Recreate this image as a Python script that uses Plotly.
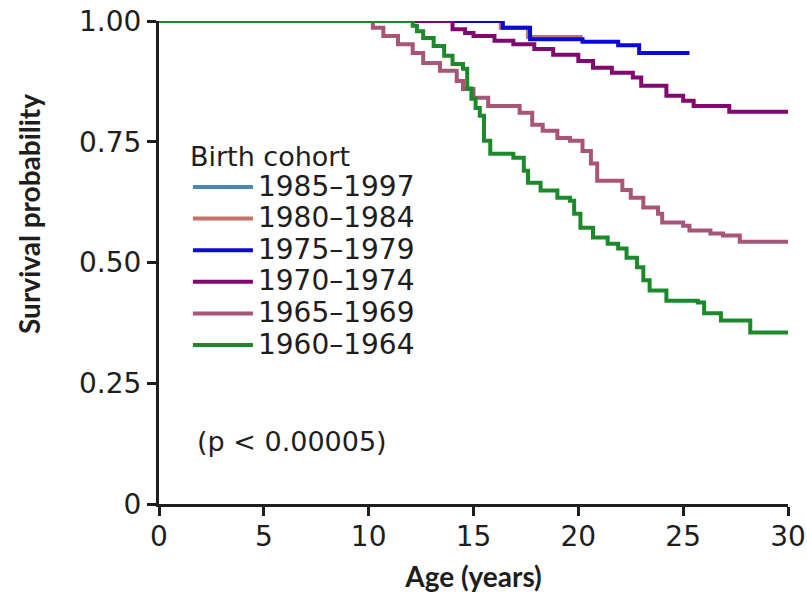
import plotly.graph_objects as go

# ---- data ----
cohorts = ["1985–1997", "1980–1984", "1975–1979", "1970–1974", "1965–1969", "1960–1964"]
colors = ["#4a86b5", "#c47264", "#0a0ad2", "#80086e", "#a85578", "#1c8a2a"]

ages_1985_1997 = [0, 16.3]
surv_1985_1997 = [1.0, 1.0]

ages_1980_1984 = [0, 16.3, 17.6, 20.2]
surv_1980_1984 = [1.0, 0.986, 0.967, 0.967]

ages_1975_1979 = [0, 16.4, 17.7, 20.2, 21.9, 22.9, 25.3]
surv_1975_1979 = [1.0, 0.986, 0.962, 0.957, 0.950, 0.934, 0.934]

ages_1970_1974 = [0, 14.0, 14.6, 15.0, 16.0, 16.9, 17.9, 18.8, 20.0, 20.7, 21.6, 22.6, 23.0, 24.2, 25.0, 25.5, 27.2, 30]
surv_1970_1974 = [1.0, 0.983, 0.975, 0.969, 0.959, 0.952, 0.942, 0.93, 0.917, 0.903, 0.893, 0.883, 0.866, 0.845, 0.835, 0.824, 0.812, 0.812]

ages_1965_1969 = [0, 10.2, 10.7, 11.4, 12.1, 12.6, 13.4, 14.2, 14.5, 15.0, 15.7, 17.2, 17.8, 18.3, 19.0, 19.6, 20.2, 20.6, 20.9, 22.1, 22.5, 23.1, 23.8, 24.0, 25.0, 25.3, 26.3, 26.9, 27.7, 30]
surv_1965_1969 = [1.0, 0.986, 0.969, 0.952, 0.934, 0.913, 0.897, 0.876, 0.859, 0.841, 0.824, 0.81, 0.785, 0.773, 0.758, 0.752, 0.731, 0.705, 0.669, 0.65, 0.634, 0.614, 0.601, 0.583, 0.576, 0.566, 0.560, 0.556, 0.543, 0.543]

ages_1960_1964 = [0, 12.1, 12.3, 12.6, 13.1, 13.6, 14.0, 14.5, 14.7, 14.9, 15.1, 15.3, 15.5, 15.8, 16.9, 17.4, 17.6, 18.2, 19.0, 19.6, 19.8, 20.1, 20.7, 21.4, 21.9, 22.3, 22.8, 23.1, 23.4, 24.2, 25.7, 26.0, 26.8, 28.2, 30]
surv_1960_1964 = [1.0, 0.99, 0.979, 0.965, 0.948, 0.928, 0.911, 0.901, 0.86, 0.839, 0.82, 0.804, 0.752, 0.725, 0.717, 0.69, 0.665, 0.649, 0.634, 0.628, 0.601, 0.572, 0.552, 0.539, 0.529, 0.51, 0.49, 0.463, 0.442, 0.421, 0.417, 0.395, 0.38, 0.355, 0.355]

x_ticks = [0, 5, 10, 15, 20, 25, 30]
y_ticks = [0, 0.25, 0.5, 0.75, 1.0]
y_tick_labels = ["0", "0.25", "0.50", "0.75", "1.00"]

series_ages = [ages_1985_1997, ages_1980_1984, ages_1975_1979, ages_1970_1974, ages_1965_1969, ages_1960_1964]
series_surv = [surv_1985_1997, surv_1980_1984, surv_1975_1979, surv_1970_1974, surv_1965_1969, surv_1960_1964]

TEXT_FONT = "DejaVu Sans"
TITLE_FONT = "Lato"
INK = "#1e1e1e"

fig = go.Figure()
for name, col, xs, ys in zip(cohorts, colors, series_ages, series_surv):
    fig.add_trace(go.Scatter(
        x=xs, y=ys, mode="lines", name=f"<span style='font-size:28px'>{name}</span>",
        line=dict(color=col, width=4, shape="hv"), cliponaxis=False,
    ))

fig.add_annotation(
    x=0.058, y=0.13, xref="paper", yref="paper", xanchor="left", yanchor="middle",
    text="(p < 0.00005)", showarrow=False,
    font=dict(family=TEXT_FONT, size=27, color=INK),
)

# y-axis title sits above the axis centre in the reference
fig.add_annotation(
    x=-0.207, y=0.6, xref="paper", yref="paper", xanchor="center", yanchor="middle",
    text="<b>Survival probability</b>", textangle=-90, showarrow=False,
    font=dict(family=TITLE_FONT, size=28, color=INK),
)

fig.update_layout(
    template="none",
    width=807, height=597,
    margin=dict(l=159, r=19, t=21, b=93),
    paper_bgcolor="white", plot_bgcolor="white",
    showlegend=True,
    legend=dict(
        x=0.046, y=0.772, xanchor="left", yanchor="top",
        bgcolor="rgba(0,0,0,0)", borderwidth=0,
        font=dict(family=TEXT_FONT, size=22, color=INK),
        title=dict(text="Birth cohort", font=dict(family=TEXT_FONT, size=27, color=INK)),
        itemwidth=60, tracegroupgap=0,
    ),
    xaxis=dict(
        range=[0, 30], tickvals=x_ticks, showgrid=False, zeroline=False, automargin=False,
        showline=True, linecolor=INK, linewidth=3,
        ticks="outside", ticklen=9, tickwidth=3, tickcolor=INK,
        tickfont=dict(family=TEXT_FONT, size=28, color=INK),
        ticklabelstandoff=-4, ticklabeloverflow="allow",
        title=dict(text="<b>Age (years)</b>", font=dict(family=TITLE_FONT, size=28, color=INK), standoff=16),
    ),
    yaxis=dict(
        range=[0, 1.0], tickvals=y_ticks, ticktext=y_tick_labels, showgrid=False, zeroline=False, automargin=False,
        showline=True, linecolor=INK, linewidth=3,
        ticks="outside", ticklen=9, tickwidth=3, tickcolor=INK,
        tickfont=dict(family=TEXT_FONT, size=28, color=INK),
        ticklabeloverflow="allow",
    ),
)

# remove the default 8px page margin so the 807x597 figure fills the window exactly
fig.write_html(
    "out.html",
    config={"displayModeBar": False},
    post_script="document.body.style.margin='0px'; document.body.style.overflow='hidden';",
)
